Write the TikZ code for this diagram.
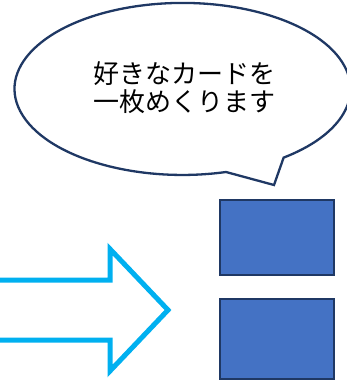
\documentclass[tikz,border=0pt]{standalone}
\usepackage{fontspec}
\newfontfamily\jpfont{Noto Sans CJK JP}
\usetikzlibrary{positioning}
\definecolor{navy}{HTML}{1F3864}
\definecolor{cardblue}{HTML}{4472C4}
\definecolor{arrowcyan}{HTML}{00B0F0}
\tikzset{
  card/.style={draw=navy,line width=2pt,fill=cardblue,minimum width=114pt,minimum height=75pt,inner sep=0pt,anchor=north west},
}

\begin{document}
\begin{tikzpicture}[x=1pt,y=-1pt]
\useasboundingbox (0,0) rectangle (347,380);
\clip (0,0) rectangle (347,380);
%draw speech bubble
\draw [navy,line width=2.3pt,fill=white,line join=miter]
  (226,172) arc[start angle=75,end angle=413,x radius=168,y radius=86]
  -- (274,185) -- cycle;
\node (msg) at (184,88) [align=center,font=\jpfont\fontsize{26}{28}\selectfont] {好きなカードを\\一枚めくります};
%draw cards
\node (card1) at (219,199) [card] {};
\node (card2) at (219,298) [card,minimum height=80pt] {};
%draw big arrow
\draw [arrowcyan,line width=5pt,line join=miter]
  (-5,280) -- (110,280) -- (110,249) -- (168,310) -- (110,371) -- (110,340) -- (-5,340);
\end{tikzpicture}
\end{document}
